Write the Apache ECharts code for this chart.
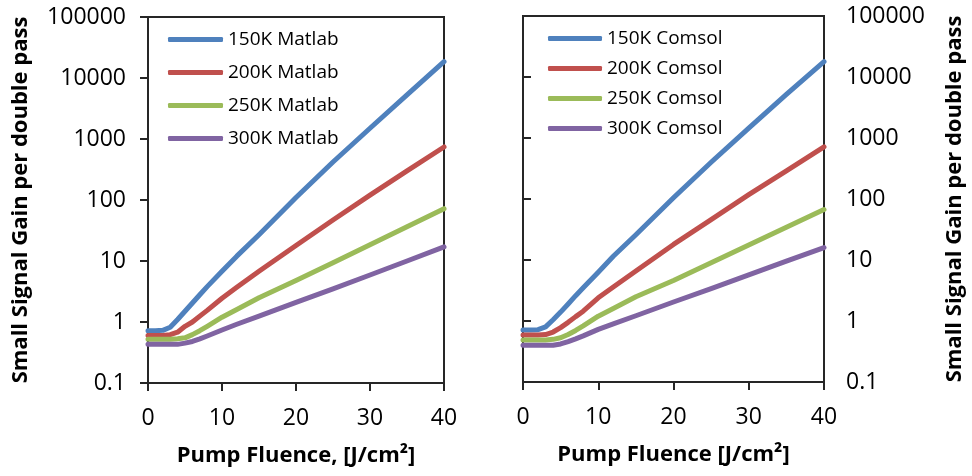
<!DOCTYPE html>
<html>
<head>
<meta charset="utf-8">
<script src="https://cdn.jsdelivr.net/npm/echarts@6/dist/echarts.min.js"></script>
<style>
html,body{margin:0;padding:0;background:#fff;}
#chart{width:972px;height:476px;}
</style>
</head>
<body>
<div id="chart"></div>
<script>
// ---- data ----
const xValues = [0, 1, 2, 3, 4, 5, 6, 7, 8, 10, 12, 15, 20, 25, 30, 35, 40];

const matlab150 = [0.72, 0.72, 0.73, 0.82, 1.1, 1.5, 2.05, 2.8, 3.8, 6.8, 12, 27, 110, 420, 1500, 5300, 18500];
const matlab200 = [0.6, 0.6, 0.6, 0.62, 0.68, 0.85, 1.0, 1.25, 1.55, 2.45, 3.7, 6.8, 18, 47, 120, 300, 740];
const matlab250 = [0.52, 0.52, 0.52, 0.52, 0.53, 0.55, 0.62, 0.72, 0.85, 1.2, 1.6, 2.5, 4.8, 9.4, 18.5, 36.5, 72];
const matlab300 = [0.43, 0.43, 0.43, 0.43, 0.43, 0.45, 0.48, 0.53, 0.59, 0.74, 0.92, 1.25, 2.1, 3.5, 5.9, 10, 17];

const comsol150 = [0.71, 0.71, 0.72, 0.8, 1.05, 1.4, 1.9, 2.6, 3.5, 6.3, 11.5, 26, 105, 400, 1450, 5200, 17800];
const comsol200 = [0.59, 0.59, 0.59, 0.6, 0.66, 0.78, 0.95, 1.18, 1.45, 2.4, 3.6, 6.6, 18, 46, 118, 290, 715];
const comsol250 = [0.49, 0.49, 0.49, 0.49, 0.5, 0.53, 0.6, 0.7, 0.83, 1.2, 1.6, 2.5, 4.6, 9, 17.6, 34.3, 67];
const comsol300 = [0.4, 0.4, 0.4, 0.4, 0.4, 0.42, 0.46, 0.51, 0.57, 0.73, 0.9, 1.22, 2.05, 3.4, 5.7, 9.6, 16];

const leftNames = ['150K Matlab', '200K Matlab', '250K Matlab', '300K Matlab'];
const rightNames = ['150K Comsol', '200K Comsol', '250K Comsol', '300K Comsol'];
const yTickLabels = ['0.1', '1', '10', '100', '1000', '10000', '100000'];
const xTickLabels = ['0', '10', '20', '30', '40'];
const yTitle = 'Small Signal Gain per double pass';
const xTitleLeft = 'Pump Fluence, [J/cm²]';
const xTitleRight = 'Pump Fluence [J/cm²]';

const colors = ['#4F81BD', '#C0504D', '#9BBB59', '#8064A2'];
const FONT = 'Open Sans';
const AXIS = '#262626';

function pairs(ys) { return xValues.map((x, i) => [x, ys[i]]); }
function yLabel(v) {
  const e = Math.round(Math.log10(v));
  return yTickLabels[e + 1] || '';
}
function xLabel(v) {
  const i = xTickLabels.indexOf(String(v));
  return i >= 0 ? xTickLabels[i] : '';
}

const chart = echarts.init(document.getElementById('chart'), null, {renderer: 'canvas'});

const xAxisCommon = (gi, title) => ({
  gridIndex: gi, type: 'value', min: 0, max: 40, interval: 10,
  axisLine: {show: true, lineStyle: {color: AXIS, width: 2}},
  axisTick: {show: true, length: 8, lineStyle: {color: AXIS, width: 2}},
  splitLine: {show: false},
  axisLabel: {color: '#000', fontFamily: FONT, fontSize: 23, margin: 24, formatter: xLabel},
  name: title, nameLocation: 'middle', nameGap: 62,
  nameTextStyle: {color: '#000', fontFamily: FONT, fontSize: 22, fontWeight: 'bold'}
});
const yAxisCommon = (gi, pos, gap) => ({
  gridIndex: gi, type: 'log', logBase: 10, min: 0.1, max: 100000, splitNumber: 6,
  position: pos,
  axisLine: {show: true, lineStyle: {color: AXIS, width: 2}},
  axisTick: {show: true, length: 8, lineStyle: {color: AXIS, width: 2}},
  splitLine: {show: false},
  minorTick: {show: false},
  axisLabel: {color: '#000', fontFamily: FONT, fontSize: 23, margin: 22, formatter: yLabel},
  name: yTitle, nameLocation: 'middle', nameGap: gap, nameRotate: 90,
  nameTextStyle: {color: '#000', fontFamily: FONT, fontSize: 22, fontWeight: 'bold'}
});

function mkSeries(name, data, idx, gi) {
  return {
    name: name, type: 'line', xAxisIndex: gi, yAxisIndex: gi,
    data: pairs(data), showSymbol: false, symbol: 'none',
    smooth: false,
    lineStyle: {color: colors[idx], width: 5, join: 'round', cap: 'round'},
    itemStyle: {color: colors[idx]},
    emphasis: {disabled: true}, animation: false
  };
}

const option = {
  animation: false,
  textStyle: {fontFamily: FONT},
  grid: [
    {left: 148, top: 17, width: 296, height: 366, show: true, borderColor: AXIS, borderWidth: 2, containLabel: false},
    {left: 523, top: 16, width: 301, height: 366, show: true, borderColor: AXIS, borderWidth: 2, containLabel: false}
  ],
  legend: [
    {
      data: leftNames, orient: 'vertical', left: 163, top: 24,
      icon: 'roundRect', itemWidth: 55, itemHeight: 5, itemGap: 12,
      textStyle: {color: '#000', fontFamily: FONT, fontSize: 19, lineHeight: 21},
      selectedMode: false
    },
    {
      data: rightNames, orient: 'vertical', left: 543, top: 23,
      icon: 'roundRect', itemWidth: 54, itemHeight: 5, itemGap: 9,
      textStyle: {color: '#000', fontFamily: FONT, fontSize: 19, lineHeight: 21},
      selectedMode: false
    }
  ],
  xAxis: [xAxisCommon(0, xTitleLeft), xAxisCommon(1, xTitleRight)],
  yAxis: [yAxisCommon(0, 'left', 116), yAxisCommon(1, 'right', 120)],
  series: [
    mkSeries(leftNames[0], matlab150, 0, 0),
    mkSeries(leftNames[1], matlab200, 1, 0),
    mkSeries(leftNames[2], matlab250, 2, 0),
    mkSeries(leftNames[3], matlab300, 3, 0),
    mkSeries(rightNames[0], comsol150, 0, 1),
    mkSeries(rightNames[1], comsol200, 1, 1),
    mkSeries(rightNames[2], comsol250, 2, 1),
    mkSeries(rightNames[3], comsol300, 3, 1)
  ]
};
chart.setOption(option);
</script>
</body>
</html>
